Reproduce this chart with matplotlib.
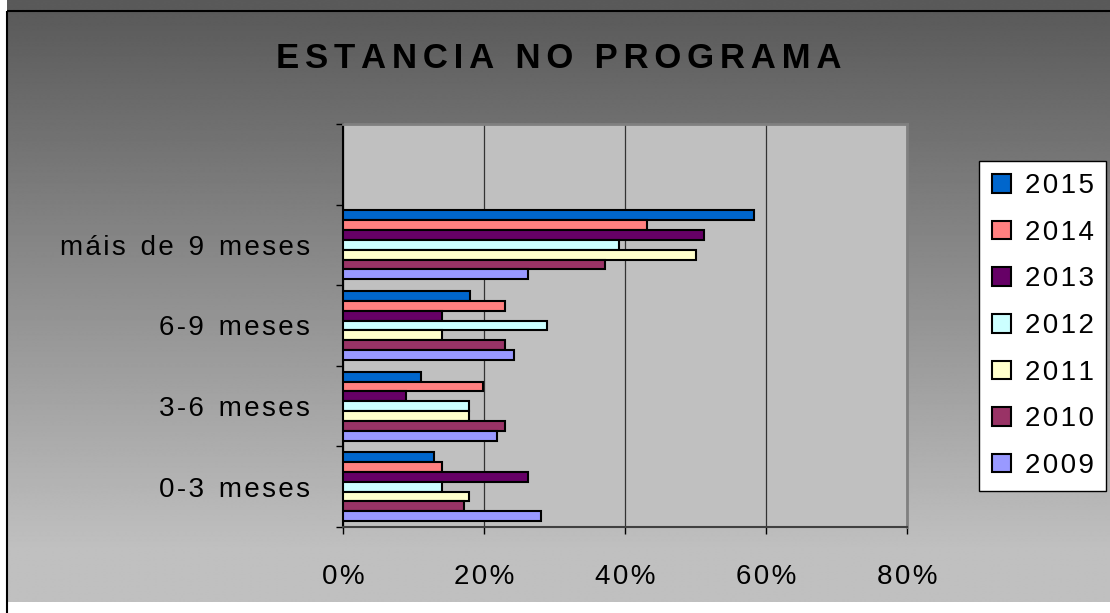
import numpy as np
import matplotlib.pyplot as plt
from matplotlib.patches import Rectangle

# data
categorias = ["0-3 meses", "3-6 meses", "6-9 meses", "máis de 9 meses"]
anos = ["2015", "2014", "2013", "2012", "2011", "2010", "2009"]
valores = {
    "2015": [12.9, 11.0, 18.0, 58.3],
    "2014": [14.0, 19.9, 23.0, 43.1],
    "2013": [26.2, 9.0, 14.1, 51.2],
    "2012": [14.0, 17.9, 28.9, 39.1],
    "2011": [17.9, 17.9, 14.1, 50.0],
    "2010": [17.2, 23.0, 23.0, 37.1],
    "2009": [28.1, 21.8, 24.2, 26.2],
}
cores = ["#0066CC", "#FF8080", "#660066", "#CCFFFF", "#FFFFCC", "#993366", "#9999FF"]
xticks = [0, 20, 40, 60, 80]

FONT = ["Liberation Sans", "DejaVu Sans"]
plt.rcParams["font.family"] = FONT


def espaciado(s, n=1, extra=1):
    # espaciado entre letras ao estilo Excel
    sep = "\u200a" * n
    return sep.join(s).replace(sep + " " + sep, sep + " " + sep + "\u200a" * extra)


W, H = 1110, 613
fig = plt.figure(figsize=(W / 100, H / 100), dpi=100)
fig.patch.set_facecolor("white")

# fondo en gradiente dentro do marco
bg = fig.add_axes([0, 0, 1, 1], zorder=-5)
ys = np.arange(H)
g = np.clip(90 + (ys - 11) * 102 / 549, 90, 192) / 255.0
img = np.repeat(g[:, None], 2, axis=1)
bg.imshow(img, cmap="gray", vmin=0, vmax=1, aspect="auto",
          extent=[7, W, H - 11, 0], interpolation="bilinear")
bg.set_xlim(0, W)
bg.set_ylim(H, 0)
bg.add_patch(Rectangle((7, 11), W, H, fill=False, edgecolor="black", lw=1.5))
bg.axis("off")

ax = fig.add_axes([343 / W, (H - 527) / H, 564 / W, 403 / H])
ax.set_facecolor("#C0C0C0")

h = 0.122
y = np.arange(len(categorias))
for i, (ano, cor) in enumerate(zip(anos, cores)):
    ax.barh(y + (3 - i) * h, valores[ano], height=h, color=cor,
            edgecolor="black", linewidth=1.5, label=espaciado(ano), zorder=3)

ax.set_xlim(0, 80)
ax.set_ylim(-0.5, 4.5)

ax.set_xticks(xticks, labels=[espaciado(f"{v}%") for v in xticks])
ax.tick_params(axis="x", direction="out", length=5, width=1, pad=22,
               labelsize=20, colors="black")
ax.set_yticks(np.arange(-0.5, 4.6, 1.0))
ax.set_yticklabels([])
ax.tick_params(axis="y", which="major", direction="out", length=5, width=1)
ax.set_yticks(y, labels=[espaciado(c) for c in categorias], minor=True)
ax.tick_params(axis="y", which="minor", length=0, pad=24, labelsize=20)

ax.xaxis.grid(True, color="#333333", linewidth=0.9, zorder=1)
ax.set_axisbelow(True)

ax.spines["left"].set_color("black")
ax.spines["left"].set_linewidth(1.5)
ax.spines["bottom"].set_color("#404040")
ax.spines["bottom"].set_linewidth(1.5)
ax.spines["top"].set_color("#808080")
ax.spines["top"].set_linewidth(2)
ax.spines["right"].set_color("#808080")
ax.spines["right"].set_linewidth(2)

fig.text(0.503, 1 - 58 / H, espaciado("ESTANCIA NO PROGRAMA", 2, 0), ha="center",
         va="center", fontsize=25, fontweight="bold")

leg = fig.legend(loc="center left", bbox_to_anchor=(979 / W, 1 - 326 / H),
                 fontsize=20, frameon=True, fancybox=False, edgecolor="black",
                 framealpha=1, handlelength=0.7, handleheight=0.65,
                 handletextpad=0.5, labelspacing=0.74, borderpad=0.45,
                 borderaxespad=0)
leg.get_frame().set_linewidth(1)

fig.savefig("out.png", dpi=100)
